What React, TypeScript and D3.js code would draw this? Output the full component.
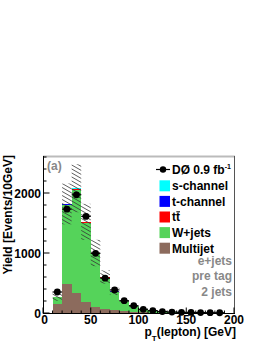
import React from "react";
import * as d3 from "d3";

// bins: 10 GeV wide, lower edges 10..180
const binLow = [10, 20, 30, 40, 50, 60, 70, 80, 90, 100, 110, 120, 130, 140, 150, 160, 170, 180];
const dataCounts = [350, 1730, 1970, 1610, 995, 580, 385, 205, 122, 62, 40, 24, 16, 11, 9, 7, 5, 4];
const multijet = [150, 490, 330, 190, 105, 75, 45, 28, 18, 12, 8, 5, 4, 3, 2, 2, 1, 1];
const wjets = [120, 1305, 1720, 1305, 875, 510, 305, 165, 95, 47, 28, 17, 11, 7, 5, 4, 3, 2];
const ttbar = [2, 12, 15, 14, 12, 9, 6, 4, 3, 2, 1, 1, 1, 0.5, 0.5, 0.3, 0.2, 0.2];
const tchan = [1, 8, 10, 8, 6, 4, 3, 2, 1, 1, 0.5, 0.5, 0.3, 0.2, 0.2, 0.1, 0.1, 0.1];
const schan = [0.5, 3, 4, 3, 2, 1.5, 1, 0.5, 0.5, 0.3, 0.2, 0.1, 0.1, 0.1, 0.1, 0.1, 0.1, 0.1];
const uncert = [70, 340, 400, 300, 220, 110, 60, 30, 18, 9, 6, 4, 3, 2, 1.5, 1, 1, 1];

const xTicks = [0, 50, 100, 150, 200];
const yTicks = [0, 1000, 2000];

const COLORS = {
  multijet: "#8c6b5d",
  wjets: "#55d35a",
  ttbar: "#ff0000",
  tchan: "#0000ff",
  schan: "#00ffff",
};

const FONT = "'Liberation Sans', Arial, Helvetica, sans-serif";
const BW = 10;

export default function App() {
  const W = 266, H = 344;
  const x = d3.scaleLinear().domain([0, 200]).range([43, 234]);
  const y = d3.scaleLinear().domain([0, 2600]).range([313, 157]);

  const layers = [
    { key: "multijet", vals: multijet, color: COLORS.multijet },
    { key: "wjets", vals: wjets, color: COLORS.wjets },
    { key: "ttbar", vals: ttbar, color: COLORS.ttbar },
    { key: "tchan", vals: tchan, color: COLORS.tchan },
    { key: "schan", vals: schan, color: COLORS.schan },
  ];
  // stack the MC contributions bin by bin
  const cum = binLow.map(() => 0);
  const stacked = layers.map((l) => {
    const rects = binLow.map((lo, i) => {
      const y0 = cum[i];
      const y1 = cum[i] + l.vals[i];
      cum[i] = y1;
      return { lo, y0, y1 };
    });
    return { ...l, rects };
  });
  const total = cum.slice();

  const legendRows = [
    { label: "s-channel", color: COLORS.schan },
    { label: "t-channel", color: COLORS.tchan },
    { label: "tt", color: COLORS.ttbar, bar: true },
    { label: "W+jets", color: COLORS.wjets },
    { label: "Multijet", color: COLORS.multijet },
  ];
  const notes = ["e+jets", "pre tag", "2 jets"];

  const minorY = d3.range(0, 2601, 200);
  const minorX = d3.range(0, 201, 10);

  return (
    <svg width={W} height={H} style={{ position: "absolute", left: 0, top: 0, background: "#fff" }} fontFamily={FONT}>
      <defs>
        <pattern id="hatch" patternUnits="userSpaceOnUse" width={7} height={4}>
          <path d="M-7,-4 L14,8 M-7,0 L7,8 M0,-4 L14,4" stroke="#333" strokeWidth={0.8} />
        </pattern>
      </defs>

      {/* stacked histogram */}
      {stacked.map((l) => (
        <g key={l.key}>
          {l.rects.map((r, i) => (
            <rect
              key={i}
              x={x(r.lo)}
              width={x(r.lo + BW) - x(r.lo)}
              y={y(r.y1)}
              height={Math.max(0, y(r.y0) - y(r.y1))}
              fill={l.color}
              shapeRendering="crispEdges"
            />
          ))}
        </g>
      ))}

      {/* uncertainty band */}
      {binLow.map((lo, i) => (
        <rect
          key={i}
          x={x(lo)}
          width={x(lo + BW) - x(lo)}
          y={y(total[i] + uncert[i])}
          height={y(total[i] - uncert[i]) - y(total[i] + uncert[i])}
          fill="url(#hatch)"
        />
      ))}

      {/* data points */}
      {binLow.map((lo, i) => {
        const cx = x(lo + BW / 2);
        const cy = y(dataCounts[i]);
        const e = Math.sqrt(dataCounts[i]);
        return (
          <g key={i}>
            <line x1={x(lo)} x2={x(lo + BW)} y1={cy} y2={cy} stroke="#000" strokeWidth={1.2} />
            <line x1={cx} x2={cx} y1={y(dataCounts[i] + e)} y2={y(dataCounts[i] - e)} stroke="#000" strokeWidth={1.2} />
            <circle cx={cx} cy={cy} r={3.4} fill="#000" />
          </g>
        );
      })}

      {/* frame */}
      <line x1={43} x2={235} y1={156.5} y2={156.5} stroke="#bbb" strokeWidth={2} />
      <line x1={234.5} x2={234.5} y1={156} y2={313} stroke="#555" strokeWidth={1} />
      <line x1={43.5} x2={43.5} y1={156} y2={313.5} stroke="#000" strokeWidth={1} />
      <line x1={43} x2={235} y1={313.5} y2={313.5} stroke="#000" strokeWidth={1} />

      {/* y ticks */}
      {minorY.map((v) => (
        <line key={v} x1={43.5} x2={43.5 + (v % 1000 === 0 ? 6 : 3)} y1={y(v)} y2={y(v)} stroke="#000" strokeWidth={1} />
      ))}
      {yTicks.map((v) => (
        <text key={v} x={41} y={y(v) + 4.5} textAnchor="end" fontSize={12} fontWeight="bold">
          {v}
        </text>
      ))}

      {/* x ticks */}
      {minorX.map((v) => (
        <line key={v} x1={x(v)} x2={x(v)} y1={313.5} y2={313.5 - (v % 50 === 0 ? 6 : 3)} stroke="#000" strokeWidth={1} />
      ))}
      {xTicks.map((v) => (
        <text key={v} x={x(v) + (v === 0 ? 1.5 : 0)} y={323.5} textAnchor="middle" fontSize={12} fontWeight="bold">
          {v}
        </text>
      ))}

      {/* axis titles */}
      <text x={236} y={336} textAnchor="end" fontSize={12} fontWeight="bold">
        p<tspan fontSize={8} dy={5}>T</tspan>
        <tspan dy={-5}>(lepton) [GeV]</tspan>
      </text>
      <text transform="translate(12,155) rotate(-90)" textAnchor="end" fontSize={12} fontWeight="bold">
        Yield [Events/10GeV]
      </text>

      <text x={47} y={170} fontSize={12} fontWeight="bold" fill="#888">(a)</text>

      {/* legend */}
      <g>
        <line x1={156} x2={170} y1={169.5} y2={169.5} stroke="#000" strokeWidth={1.2} />
        <circle cx={163} cy={169.5} r={3.2} fill="#000" />
        <text x={172} y={174} fontSize={12} fontWeight="bold">
          DØ 0.9 fb<tspan fontSize={7} dy={-5}>-1</tspan>
        </text>
        {legendRows.map((r, i) => {
          const cy = 185.8 + i * 15.6;
          return (
            <g key={r.label}>
              <rect x={159.5} y={cy - 5.5} width={10.5} height={11} fill={r.color} />
              <text x={172} y={cy + 4.3} fontSize={12} fontWeight="bold">
                {r.label}
              </text>
              {r.bar && <line x1={176.3} x2={180} y1={cy - 5.2} y2={cy - 5.2} stroke="#000" strokeWidth={1} />}
            </g>
          );
        })}
        {notes.map((n, i) => (
          <text key={n} x={232} y={264.5 + i * 15.5} textAnchor="end" fontSize={12} fontWeight="bold" fill="#888">
            {n}
          </text>
        ))}
      </g>
    </svg>
  );
}
